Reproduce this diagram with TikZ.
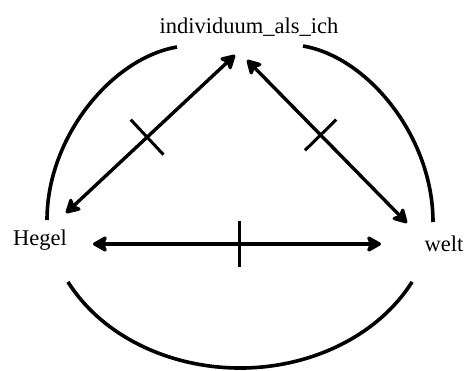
\documentclass[tikz,border=0pt]{standalone}
\usepackage{fontspec}
\setmainfont{Liberation Serif}
\usetikzlibrary{arrows.meta, calc}

\begin{document}
\begin{tikzpicture}[x=1pt, y=1pt,
    every node/.style={font=\fontsize{22.5}{26}\selectfont, inner sep=0pt},
    pfeil/.style={line width=3.4pt, {Stealth[length=17pt, width=19pt, inset=4pt, round]}-{Stealth[length=17pt, width=19pt, inset=4pt, round]}},
    strich/.style={line width=3pt},
    bogen/.style={line width=3.6pt}]
    \useasboundingbox (0,0) rectangle (465,-370);
    % labels
    \node[anchor=base] (ich) at (249,-33) {individuum\_als\_ich};
    \node[anchor=base] (hegel) at (40,-245) {Hegel};
    \node[anchor=base] (welt) at (444,-251) {welt};
    % arrow ends
    \coordinate (hi) at (66,-213);
    \coordinate (ih) at (235,-55);
    \coordinate (iw) at (247,-60);
    \coordinate (wi) at (407,-223);
    \coordinate (hw) at (93,-244);
    \coordinate (wh) at (381,-244);
    \draw[pfeil] (hi) -- (ih);
    \draw[pfeil] (iw) -- (wi);
    \draw[pfeil] (hw) -- (wh);
    % cross strokes
    \coordinate (m1) at ($(hi)!0.48!(ih)$);
    \coordinate (m2) at ($(iw)!0.46!(wi)$);
    \coordinate (m3) at ($(hw)!0.51!(wh)$);
    \draw[strich] ($(m1)!24pt!90:(ih)$) -- ($(m1)!24pt!-90:(ih)$);
    \draw[strich] ($(m2)!22pt!90:(wi)$) -- ($(m2)!22pt!-90:(wi)$);
    \draw[strich] ($(m3)!23pt!90:(wh)$) -- ($(m3)!23pt!-90:(wh)$);
    % the three arcs
    \draw[bogen] (177,-47) .. controls (112,-58) and (47,-137) .. (47,-220);
    \draw[bogen] (303,-46) .. controls (368,-57) and (433,-137) .. (433,-222);
    \draw[bogen] (240,-208) ++(207.5:194 and 160) arc[start angle=207.5, end angle=332.5, x radius=194, y radius=160];
\end{tikzpicture}
\end{document}
